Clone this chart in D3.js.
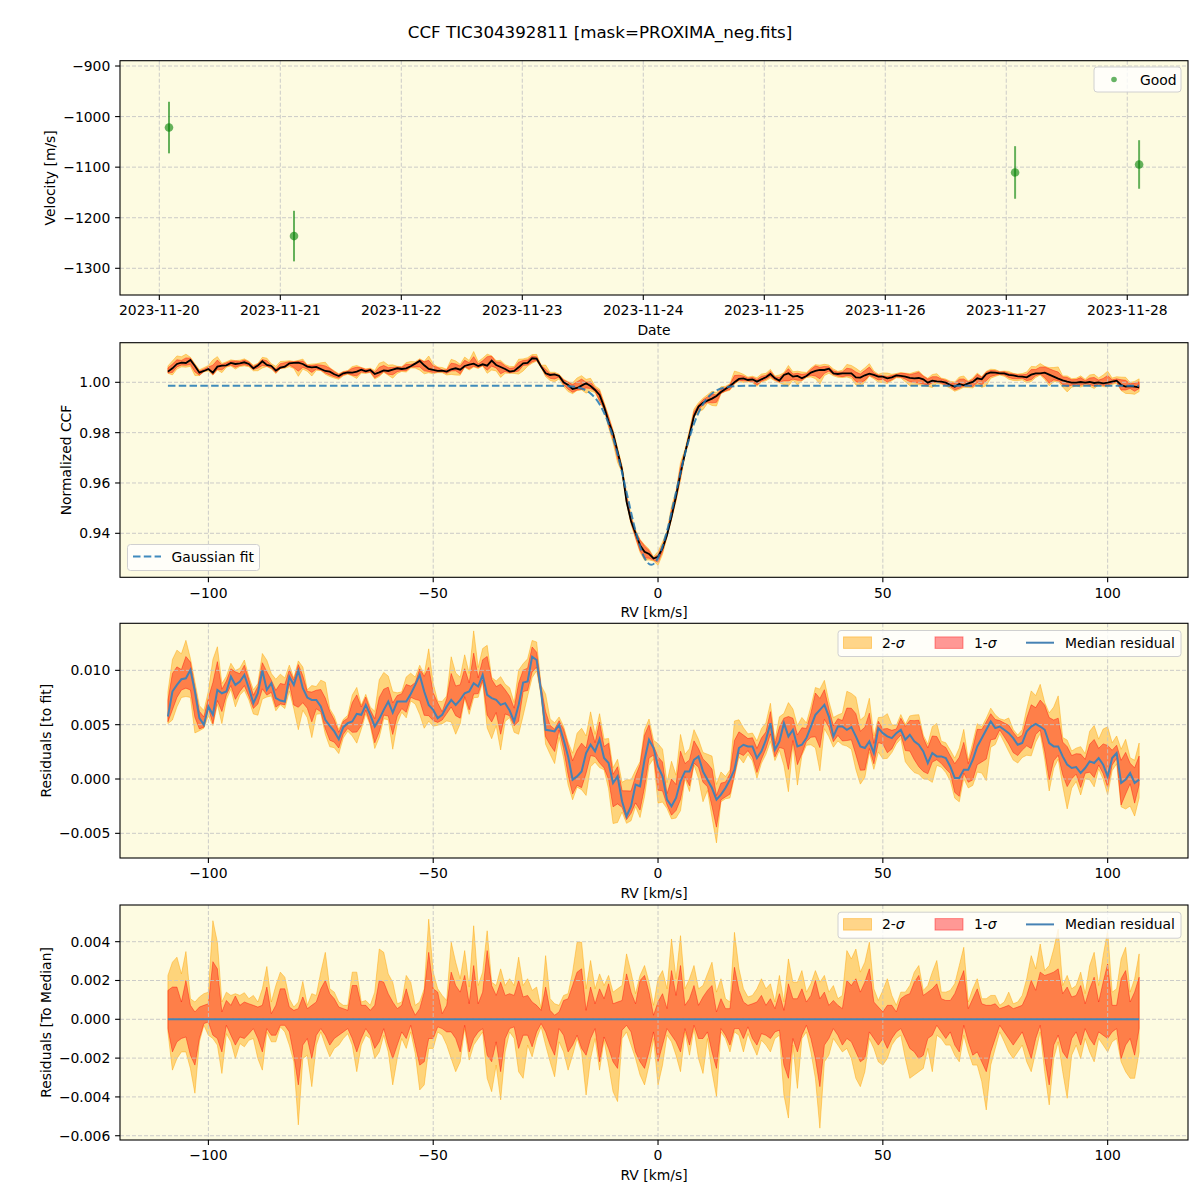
<!DOCTYPE html>
<html><head><meta charset="utf-8">
<script src="https://cdn.jsdelivr.net/npm/d3@7"></script>
<style>body{margin:0;background:#fff}svg text{font-family:"DejaVu Sans",sans-serif;fill:#000}</style>
</head><body><svg id="c" width="1200" height="1200"></svg>
<script>
// ---------------- DATA ----------------
const titleText = "CCF TIC304392811 [mask=PROXIMA_neg.fits]";
// Panel 1: RV time series
const obsDates = ["2023-11-20T01:55:00Z","2023-11-21T02:43:00Z","2023-11-27T01:45:00Z","2023-11-28T02:21:00Z"];
const obsVel = [-1021.7,-1236.3,-1110.5,-1094.7];
const obsErr = [51,50,52,48];
const dateTicks = ["2023-11-20","2023-11-21","2023-11-22","2023-11-23","2023-11-24","2023-11-25","2023-11-26","2023-11-27","2023-11-28"];
const velTicks = [-1300,-1200,-1100,-1000,-900];
// RV grid [km/s]
const rv = [-109,-108,-107,-106,-105,-104,-103,-102,-101,-100,-99,-98,-97,-96,-95,-94,-93,-92,-91,-90,-89,-88,-87,-86,-85,-84,-83,-82,-81,-80,-79,-78,-77,-76,-75,-74,-73,-72,-71,-70,-69,-68,-67,-66,-65,-64,-63,-62,-61,-60,-59,-58,-57,-56,-55,-54,-53,-52,-51,-50,-49,-48,-47,-46,-45,-44,-43,-42,-41,-40,-39,-38,-37,-36,-35,-34,-33,-32,-31,-30,-29,-28,-27,-26,-25,-24,-23,-22,-21,-20,-19,-18,-17,-16,-15,-14,-13,-12,-11,-10,-9,-8,-7,-6,-5,-4,-3,-2,-1,0,1,2,3,4,5,6,7,8,9,10,11,12,13,14,15,16,17,18,19,20,21,22,23,24,25,26,27,28,29,30,31,32,33,34,35,36,37,38,39,40,41,42,43,44,45,46,47,48,49,50,51,52,53,54,55,56,57,58,59,60,61,62,63,64,65,66,67,68,69,70,71,72,73,74,75,76,77,78,79,80,81,82,83,84,85,86,87,88,89,90,91,92,93,94,95,96,97,98,99,100,101,102,103,104,105,106,107];
// Median normalized CCF
const ccf = [
1.00424,1.00557,1.00729,1.00782,1.00769,1.00888,1.00649,1.00384,1.00451,1.00530,
1.00384,1.00623,1.00663,1.00676,1.00769,1.00729,1.00755,1.00795,1.00729,1.00557,
1.00663,1.00835,1.00689,1.00649,1.00464,1.00583,1.00623,1.00755,1.00769,1.00782,
1.00729,1.00623,1.00596,1.00610,1.00530,1.00451,1.00424,1.00318,1.00252,1.00358,
1.00398,1.00384,1.00424,1.00504,1.00437,1.00490,1.00331,1.00398,1.00477,1.00451,
1.00504,1.00557,1.00530,1.00557,1.00636,1.00742,1.00848,1.00676,1.00530,1.00490,
1.00451,1.00464,1.00424,1.00517,1.00557,1.00504,1.00649,1.00702,1.00742,1.00649,
1.00716,1.00663,1.00861,1.00689,1.00610,1.00530,1.00424,1.00451,1.00596,1.00755,
1.00769,1.00954,1.00941,1.00623,1.00358,1.00292,1.00318,1.00252,1.00000,0.99894,
0.99735,0.99775,0.99867,0.99960,0.99854,0.99695,0.99496,0.99033,0.98440,0.97970,
0.97240,0.96520,0.95260,0.94490,0.94000,0.93530,0.93270,0.93180,0.93000,0.93070,
0.93400,0.93930,0.94660,0.95460,0.96380,0.97180,0.97910,0.98660,0.99033,0.99192,
0.99271,0.99351,0.99457,0.99616,0.99735,0.99854,1.00000,1.00133,1.00159,1.00093,
1.00119,1.00027,1.00119,1.00199,1.00331,1.00159,1.00066,1.00292,1.00358,1.00225,
1.00252,1.00159,1.00252,1.00384,1.00450,1.00490,1.00490,1.00543,1.00358,1.00331,
1.00358,1.00358,1.00358,1.00199,1.00186,1.00278,1.00344,1.00292,1.00225,1.00225,
1.00159,1.00199,1.00278,1.00252,1.00225,1.00172,1.00159,1.00172,1.00119,0.99987,
1.00066,1.00040,1.00027,0.99987,0.99894,0.99828,0.99934,0.99881,0.99960,1.00013,
1.00159,1.00119,1.00331,1.00398,1.00384,1.00358,1.00358,1.00292,1.00278,1.00239,
1.00225,1.00199,1.00305,1.00358,1.00358,1.00384,1.00305,1.00225,1.00146,1.00080,
1.00027,0.99987,0.99987,1.00013,0.99987,1.00013,0.99973,1.00000,0.99960,0.99987,
1.00027,1.00066,0.99894,0.99828,0.99854,0.99828,0.99801];
// Gaussian fit, read at selected RVs
const fitRV  = [-109,-24,-20,-17,-15,-13,-11,-9,-7,-5,-3,-1.5,0,2,4,6,8,10,12,14,17,20,107];
const fitVal = [0.99868,0.99867,0.99848,0.99753,0.99555,0.99131,0.98354,0.97155,0.95630,0.94098,0.93018,0.92748,0.93018,0.94098,0.95630,0.97155,0.98354,0.99131,0.99555,0.99753,0.99848,0.99865,0.99868];
// Median residual to fit (units of 1e-3)
const residMed = [
5.75,8.05,8.66,9.18,9.27,10.04,8.05,5.60,4.99,6.67,
5.91,8.20,7.89,8.05,9.42,8.66,8.97,9.58,8.35,6.98,
7.89,9.98,8.20,8.81,7.44,7.22,7.13,9.42,8.66,9.98,
8.35,7.50,7.28,7.28,6.67,5.45,4.90,4.38,3.67,4.77,
5.14,5.29,6.00,5.91,6.82,5.91,4.83,5.51,6.36,7.13,
6.12,7.13,7.13,7.13,7.83,8.66,9.58,8.05,6.82,6.36,
5.60,5.91,6.67,7.28,6.82,7.28,7.89,8.05,8.81,8.51,
9.58,7.74,7.44,7.28,6.82,6.98,6.30,5.29,6.82,8.87,
8.97,11.26,10.95,8.05,4.53,4.47,4.38,4.99,3.61,2.08,
-0.06,0.24,0.70,2.39,3.15,2.54,3.67,1.93,1.47,-0.37,
0.24,-2.05,-3.43,-2.51,-0.52,-0.67,1.77,3.61,2.85,1.16,
0.24,-1.90,-2.51,-1.74,-0.21,0.70,0.70,1.77,2.08,0.70,
-0.06,-0.83,-1.90,-1.44,-0.83,-0.06,0.86,2.85,3.15,3.00,
3.00,1.93,2.54,3.61,5.14,2.69,3.46,5.14,3.92,4.53,
3.00,3.15,3.76,4.83,5.91,6.36,6.82,5.75,3.92,4.83,
4.83,4.53,4.77,3.92,3.00,2.85,3.46,2.39,4.68,4.22,
3.92,3.76,4.22,4.53,3.61,4.07,3.46,3.15,2.54,1.47,
2.39,2.08,2.08,1.93,1.16,0.09,0.09,0.86,0.86,1.77,
3.00,3.76,4.53,5.29,4.68,4.83,4.53,4.22,3.76,3.15,
3.31,4.38,4.83,5.08,4.83,4.53,3.31,3.00,3.00,2.08,
1.32,1.01,1.10,0.55,1.01,1.62,1.47,1.93,1.32,0.24,
1.93,2.39,-0.37,-0.06,0.55,-0.37,-0.06];
// Spread relative to the median (units of 1e-3)
const band2Hi = [
2.26,2.94,3.20,2.34,3.49,1.06,0.89,1.15,1.32,1.40,
5.08,3.97,0.89,1.40,1.23,1.32,1.23,1.37,1.06,1.23,
0.89,1.57,2.72,0.89,1.74,2.43,2.17,1.06,0.63,0.89,
1.95,0.72,1.32,1.23,2.43,3.45,1.57,1.40,0.89,0.72,
0.72,2.43,2.43,0.89,0.97,0.72,1.40,3.62,3.45,2.34,
1.91,0.80,0.89,2.26,1.91,0.72,0.89,1.57,5.16,2.43,
1.57,1.23,0.97,3.97,2.94,2.09,3.54,1.66,4.82,1.74,
2.43,4.56,1.91,1.74,2.60,1.74,2.09,1.74,3.20,1.74,
2.09,1.49,1.66,0.55,3.28,1.06,0.80,0.72,1.23,1.32,
2.43,3.97,3.97,1.57,3.03,1.57,2.34,1.74,2.26,1.40,
1.57,1.74,3.37,2.43,1.32,2.26,2.77,1.91,0.72,2.09,
2.51,1.57,4.14,2.09,4.31,1.57,2.09,2.77,1.57,1.74,
2.34,2.94,1.40,2.09,1.06,0.89,4.48,2.60,1.57,1.15,
1.23,1.57,2.09,1.57,1.83,0.89,2.26,0.89,3.11,1.91,
1.91,2.51,1.40,1.83,2.51,1.91,2.26,1.40,1.74,1.06,
1.23,3.54,3.11,3.62,2.43,2.94,3.97,1.57,0.97,1.49,
2.09,1.23,0.72,1.40,1.40,1.74,2.43,2.77,1.49,1.74,
2.43,3.03,1.40,1.40,1.49,1.83,2.77,3.71,0.89,1.57,
2.09,1.06,1.06,1.23,1.23,0.72,0.89,1.40,0.80,0.89,
1.23,2.09,3.28,2.60,3.88,2.51,2.77,3.62,4.65,1.74,
2.26,1.57,1.74,2.43,1.32,2.77,3.45,1.74,3.28,4.56,
1.40,1.57,3.11,3.71,1.40,2.09,3.37];
const band1Hi = [
1.49,1.66,1.66,0.89,2.00,0.72,0.38,0.63,0.72,0.80,
2.97,2.60,0.38,0.97,0.72,1.20,0.72,0.89,0.80,0.72,
0.63,0.72,1.66,0.29,0.72,1.57,1.57,0.63,0.46,0.55,
1.15,0.55,0.72,0.89,1.57,2.00,1.32,1.06,0.63,0.55,
0.46,1.74,1.74,0.72,0.72,0.46,0.72,2.00,1.91,1.32,
0.89,0.55,0.72,1.57,0.72,0.21,0.55,1.40,3.45,1.57,
1.40,0.29,0.72,2.43,1.74,1.40,2.26,0.80,2.77,0.80,
1.40,3.54,1.74,1.23,1.91,1.23,1.32,1.23,2.00,1.15,
1.23,0.89,0.72,0.46,1.66,0.46,0.21,0.38,0.97,1.06,
1.74,2.43,2.60,0.46,1.66,0.80,1.57,1.06,1.83,0.80,
0.89,0.97,2.34,1.40,0.80,2.00,2.26,1.40,0.21,0.89,
1.32,0.55,2.51,1.23,2.77,0.72,1.06,1.74,0.72,1.15,
1.49,1.74,0.38,1.06,0.55,0.55,2.68,1.49,0.89,0.72,
0.80,0.89,1.23,0.72,1.06,0.55,1.32,0.46,1.83,1.06,
1.06,1.57,0.89,1.23,2.00,1.06,1.40,0.72,0.97,0.72,
0.55,2.00,1.74,2.09,1.40,1.91,2.60,0.89,0.63,0.38,
0.72,0.72,0.38,1.06,1.23,1.32,1.91,2.26,1.23,1.40,
1.57,1.83,1.06,0.97,0.97,1.32,1.91,2.51,0.55,1.06,
1.57,0.80,0.72,0.72,0.80,0.55,0.63,0.72,0.55,0.63,
0.72,1.23,2.00,1.49,2.43,2.26,2.34,2.43,2.60,1.32,
1.66,1.15,1.23,1.74,0.80,1.57,2.17,0.89,1.91,2.85,
0.72,0.72,2.09,2.51,0.89,1.40,2.17];
const band1Lo = [
-0.48,-1.68,-1.16,-0.99,-0.91,-1.85,-2.36,-0.99,-0.22,-0.14,
-0.82,-0.99,-1.68,-0.31,-0.82,-1.33,-0.91,-0.99,-0.74,-0.48,
-0.99,-1.68,-0.48,-0.82,-0.82,-0.31,-0.31,-0.65,-1.85,-3.38,
-1.33,-0.99,-2.02,-0.82,-0.48,-0.82,-1.33,-0.99,-0.82,-0.65,
-0.48,-0.99,-1.68,-0.99,-0.48,-0.82,-1.50,-1.16,-0.48,-1.33,
-2.02,-1.33,-0.65,-0.99,-0.31,-1.33,-2.36,-2.19,-0.99,-0.99,
-0.39,-0.48,-0.65,-0.65,-0.99,-1.68,-0.31,-1.68,-0.99,-0.65,
-0.48,-1.85,-2.19,-1.16,-2.70,-0.99,-0.48,-0.39,-1.50,-0.82,
-0.82,-1.42,-0.65,-0.22,-0.65,-1.33,-1.85,-0.48,-0.82,-1.68,
-1.33,-0.82,-1.50,-1.85,-0.99,-0.48,-2.19,-0.91,-1.50,-2.19,
-2.53,-0.56,-0.31,-0.65,-1.68,-2.19,-2.53,-1.68,-0.65,-2.19,
-1.33,-0.48,-0.82,-1.16,-1.68,-0.48,-1.33,-0.31,-0.99,-0.99,
-0.65,-1.68,-2.53,-0.48,-0.82,-1.33,-0.48,-0.48,-0.99,-0.39,
-0.99,-1.33,-0.74,-0.82,-0.99,-0.65,-0.56,-2.36,-3.04,-0.99,
-1.68,-0.82,-0.31,-0.99,-2.02,-3.47,-1.33,-0.99,-0.48,-0.82,
-1.33,-0.99,-1.16,-1.68,-2.19,-2.02,-0.65,-0.99,-1.33,-0.99,
-1.50,-0.99,-0.65,-0.48,-0.99,-1.50,-1.68,-2.02,-1.85,-0.99,
-0.82,-0.31,-0.65,-0.99,-0.65,-1.33,-1.68,-0.31,-1.16,-1.85,
-1.68,-2.19,-2.70,-1.68,-0.99,-0.31,-0.65,-0.99,-1.33,-0.99,
-0.65,-1.33,-2.02,-0.99,-0.31,-2.02,-3.38,-1.33,-0.82,-1.68,
-2.02,-0.99,-0.65,-1.33,-0.48,-0.99,-1.33,-0.65,-0.82,-0.99,
-0.65,-0.48,-2.02,-1.33,-0.99,-1.85,-0.48];
const band2Lo = [
-0.65,-2.62,-2.02,-1.68,-1.68,-2.53,-3.81,-1.16,-0.31,-0.82,
-0.99,-1.33,-2.79,-0.74,-1.16,-2.02,-1.25,-1.42,-1.08,-0.99,
-2.02,-2.62,-0.65,-1.16,-1.16,-0.39,-0.65,-1.33,-2.19,-5.44,
-2.02,-1.85,-3.47,-1.33,-0.65,-1.33,-1.93,-1.50,-1.33,-0.99,
-0.74,-1.33,-2.70,-1.33,-0.82,-0.99,-2.02,-1.68,-0.82,-1.68,
-3.38,-2.02,-0.99,-1.50,-0.65,-1.76,-3.64,-3.38,-1.50,-1.50,
-0.65,-0.82,-1.33,-2.02,-2.70,-2.19,-0.48,-2.10,-1.33,-0.99,
-0.65,-3.04,-3.73,-2.36,-4.15,-1.68,-0.65,-0.99,-2.70,-3.04,
-1.33,-1.93,-0.99,-0.39,-1.33,-2.19,-2.96,-1.16,-1.68,-2.62,
-1.85,-0.99,-1.68,-3.90,-2.02,-0.99,-2.62,-1.08,-2.36,-3.73,
-4.24,-0.99,-0.65,-1.33,-2.02,-2.87,-3.38,-2.36,-0.99,-3.38,
-2.36,-0.82,-1.16,-1.85,-2.70,-0.65,-1.85,-0.48,-2.02,-2.79,
-0.99,-2.70,-3.98,-0.65,-0.99,-1.68,-0.65,-0.82,-1.68,-0.74,
-1.33,-1.85,-1.08,-1.33,-1.68,-0.99,-0.82,-3.90,-5.09,-1.33,
-3.56,-0.99,-0.65,-1.68,-3.04,-5.61,-2.19,-1.85,-0.99,-1.33,
-1.68,-1.50,-2.02,-3.04,-3.47,-2.70,-0.99,-1.50,-2.19,-2.36,
-2.02,-1.33,-0.99,-0.82,-2.02,-3.04,-2.87,-2.70,-2.53,-1.50,
-2.70,-0.82,-0.99,-1.33,-1.33,-1.85,-2.19,-0.82,-1.68,-2.36,
-2.36,-3.21,-4.67,-2.36,-1.50,-0.65,-1.16,-1.68,-2.02,-1.68,
-1.33,-2.19,-2.70,-1.68,-0.65,-2.70,-4.41,-2.02,-1.16,-2.70,
-4.07,-1.85,-1.33,-2.02,-0.99,-1.68,-2.19,-0.99,-1.33,-1.68,
-1.16,-0.99,-2.19,-2.70,-3.04,-3.04,-1.68];
const MILLI = 1e-3;
const rvTicks = [-100,-50,0,50,100];
const ccfTicks = [0.94,0.96,0.98,1.00];
const residTicks = [-0.005,0,0.005,0.010];
const medTicks = [-0.006,-0.004,-0.002,0,0.002,0.004];

// ---------------- STYLE / LAYOUT ----------------
const FS = 13.9, L = 120, R = 1188;
const BG = "#fdfbe1";
const C2 = "orange", A2 = 0.45, C1 = "red", A1 = 0.4;
const MEDC = "#4682b4";
const svg = d3.select("#c");

svg.append("text").attr("x", 600).attr("y", 38).attr("text-anchor","middle")
  .style("font-size","16.7px").text(titleText);

function frame(top, bot, x, y, xt, xfmt, yt, yfmt, xlabel, ylabel, ylabX) {
  const g = svg.append("g");
  g.append("rect").attr("x",L).attr("y",top).attr("width",R-L).attr("height",bot-top).attr("fill",BG);
  const layers = {bg: g, data: g.append("g"), grid: g.append("g"), lines: g.append("g"), top: g.append("g")};
  // grid
  xt.forEach(v => layers.grid.append("line").attr("x1",x(v)).attr("x2",x(v)).attr("y1",top).attr("y2",bot)
      .attr("stroke","#c4c4c4").attr("stroke-width",1).attr("stroke-dasharray","4,2").attr("opacity",0.85));
  yt.forEach(v => layers.grid.append("line").attr("x1",L).attr("x2",R).attr("y1",y(v)).attr("y2",y(v))
      .attr("stroke","#c4c4c4").attr("stroke-width",1).attr("stroke-dasharray","4,2").attr("opacity",0.85));
  const ax = layers.top;
  ax.append("rect").attr("x",L).attr("y",top).attr("width",R-L).attr("height",bot-top)
    .attr("fill","none").attr("stroke","#000").attr("stroke-width",1.1);
  xt.forEach(v => {
    ax.append("line").attr("x1",x(v)).attr("x2",x(v)).attr("y1",bot).attr("y2",bot+4.9).attr("stroke","#000").attr("stroke-width",1.1);
    ax.append("text").attr("x",x(v)).attr("y",bot+20.3).attr("text-anchor","middle").style("font-size",FS+"px").text(xfmt(v));
  });
  yt.forEach(v => {
    ax.append("line").attr("x1",L-4.9).attr("x2",L).attr("y1",y(v)).attr("y2",y(v)).attr("stroke","#000").attr("stroke-width",1.1);
    ax.append("text").attr("x",L-9.7).attr("y",y(v)).attr("dy","0.36em").attr("text-anchor","end").style("font-size",FS+"px").text(yfmt(v));
  });
  ax.append("text").attr("x",(L+R)/2).attr("y",bot+40).attr("text-anchor","middle").style("font-size",FS+"px").text(xlabel);
  ax.append("text").attr("transform",`translate(${ylabX},${(top+bot)/2}) rotate(-90)`).attr("text-anchor","middle").style("font-size",FS+"px").text(ylabel);
  return layers;
}

// ---------- Panel 1 ----------
{
  const top = 60.7, bot = 295;
  const x = d3.scaleUtc().domain([new Date("2023-11-19T16:12:00Z"), new Date("2023-11-28T12:03:00Z")]).range([L,R]);
  const y = d3.scaleLinear().domain([-1352.8,-889.5]).range([bot,top]);
  const dt = dateTicks.map(s => new Date(s+"T00:00:00Z"));
  const lay = frame(top, bot, x, y, dt, d3.utcFormat("%Y-%m-%d"), velTicks, d3.format("d"), "Date", "Velocity [m/s]", 54.5);
  obsDates.forEach((s,i) => {
    const d = new Date(s);
    lay.lines.append("line").attr("x1",x(d)).attr("x2",x(d)).attr("y1",y(obsVel[i]-obsErr[i])).attr("y2",y(obsVel[i]+obsErr[i]))
      .attr("stroke","green").attr("stroke-opacity",0.6).attr("stroke-width",2);
    lay.lines.append("circle").attr("cx",x(d)).attr("cy",y(obsVel[i])).attr("r",4.3).attr("fill","green").attr("fill-opacity",0.6);
  });
  const lg = lay.top.append("g");
  lg.append("rect").attr("x",1094).attr("y",67).attr("width",87).attr("height",25).attr("rx",3)
    .attr("fill","#fff").attr("fill-opacity",0.8).attr("stroke","#d0d0d0");
  lg.append("circle").attr("cx",1114).attr("cy",79.5).attr("r",2.8).attr("fill","green").attr("fill-opacity",0.6);
  lg.append("text").attr("x",1140).attr("y",84.5).style("font-size",FS+"px").text("Good");
}

const xRV = top => d3.scaleLinear().domain([-119.66,117.87]).range([L,R]);
const rvFmt = d3.format("d");

function bands(lay, x, y, base) {
  const a2 = d3.area().x((d,i)=>x(rv[i])).y0((d,i)=>y(base(i)+band2Lo[i]*MILLI)).y1((d,i)=>y(base(i)+band2Hi[i]*MILLI));
  const a1 = d3.area().x((d,i)=>x(rv[i])).y0((d,i)=>y(base(i)+band1Lo[i]*MILLI)).y1((d,i)=>y(base(i)+band1Hi[i]*MILLI));
  lay.data.append("path").attr("d",a2(rv)).attr("fill",C2).attr("fill-opacity",A2).attr("stroke",C2).attr("stroke-opacity",A2).attr("stroke-width",1);
  lay.data.append("path").attr("d",a1(rv)).attr("fill",C1).attr("fill-opacity",A1).attr("stroke",C1).attr("stroke-opacity",A1).attr("stroke-width",1);
}

function bandLegend(lay, top) {
  const lg = lay.top.append("g").attr("transform",`translate(0,${top})`);
  lg.append("rect").attr("x",838).attr("y",7.2).attr("width",343).attr("height",26).attr("rx",3)
    .attr("fill","#fff").attr("fill-opacity",0.8).attr("stroke","#d0d0d0");
  lg.append("rect").attr("x",843.5).attr("y",13.6).attr("width",28).attr("height",11.5)
    .attr("fill",C2).attr("fill-opacity",A2).attr("stroke",C2).attr("stroke-opacity",A2);
  const t1 = lg.append("text").attr("x",882).attr("y",24.3).style("font-size",FS+"px");
  t1.append("tspan").text("2-"); t1.append("tspan").style("font-style","italic").text("σ");
  lg.append("rect").attr("x",935).attr("y",13.6).attr("width",28).attr("height",11.5)
    .attr("fill",C1).attr("fill-opacity",A1).attr("stroke",C1).attr("stroke-opacity",A1);
  const t2 = lg.append("text").attr("x",974).attr("y",24.3).style("font-size",FS+"px");
  t2.append("tspan").text("1-"); t2.append("tspan").style("font-style","italic").text("σ");
  lg.append("line").attr("x1",1026).attr("x2",1054).attr("y1",19.4).attr("y2",19.4).attr("stroke",MEDC).attr("stroke-width",2);
  lg.append("text").attr("x",1065).attr("y",24.3).style("font-size",FS+"px").text("Median residual");
}

// ---------- Panel 2 ----------
{
  const top = 342.7, bot = 577.3;
  const x = xRV();
  const y = d3.scaleLinear().domain([0.92252,1.01574]).range([bot,top]);
  const lay = frame(top, bot, x, y, rvTicks, rvFmt, ccfTicks, d3.format(".2f"), "RV [km/s]", "Normalized CCF", 70.5);
  bands(lay, x, y, i => ccf[i]);
  lay.lines.append("path").attr("d", d3.line().x((d,i)=>x(rv[i])).y(d=>y(d))(ccf))
    .attr("fill","none").attr("stroke","#000").attr("stroke-width",1.8);
  lay.lines.append("path").attr("d", d3.line().curve(d3.curveMonotoneX).x((d,i)=>x(fitRV[i])).y(d=>y(d))(fitVal))
    .attr("fill","none").attr("stroke","#1f77b4").attr("stroke-opacity",0.85).attr("stroke-width",2).attr("stroke-dasharray","7.5,3.3");
  const lg = lay.top.append("g");
  lg.append("rect").attr("x",127.5).attr("y",544.5).attr("width",132).attr("height",26).attr("rx",3)
    .attr("fill","#fff").attr("fill-opacity",0.8).attr("stroke","#d0d0d0");
  lg.append("line").attr("x1",133).attr("x2",161).attr("y1",556.5).attr("y2",556.5)
    .attr("stroke","#1f77b4").attr("stroke-opacity",0.85).attr("stroke-width",2).attr("stroke-dasharray","7.5,3.3");
  lg.append("text").attr("x",171.5).attr("y",561.5).style("font-size",FS+"px").text("Gaussian fit");
}

// ---------- Panel 3 ----------
{
  const top = 623.3, bot = 858;
  const x = xRV();
  const y = d3.scaleLinear().domain([-0.00727,0.01433]).range([bot,top]);
  const lay = frame(top, bot, x, y, rvTicks, rvFmt, residTicks, d3.format(".3f"), "RV [km/s]", "Residuals [to fit]", 50.5);
  bands(lay, x, y, i => residMed[i]*MILLI);
  lay.lines.append("path").attr("d", d3.line().x((d,i)=>x(rv[i])).y(d=>y(d*MILLI))(residMed))
    .attr("fill","none").attr("stroke",MEDC).attr("stroke-width",2);
  bandLegend(lay, top);
}

// ---------- Panel 4 ----------
{
  const top = 905, bot = 1140;
  const x = xRV();
  const y = d3.scaleLinear().domain([-0.00622,0.00589]).range([bot,top]);
  const lay = frame(top, bot, x, y, rvTicks, rvFmt, medTicks, d3.format(".3f"), "RV [km/s]", "Residuals [To Median]", 50.5);
  bands(lay, x, y, i => 0);
  lay.lines.append("path").attr("d", d3.line().x(d=>x(d)).y(()=>y(0))(rv))
    .attr("fill","none").attr("stroke",MEDC).attr("stroke-width",2);
  bandLegend(lay, top);
}
</script></body></html>
